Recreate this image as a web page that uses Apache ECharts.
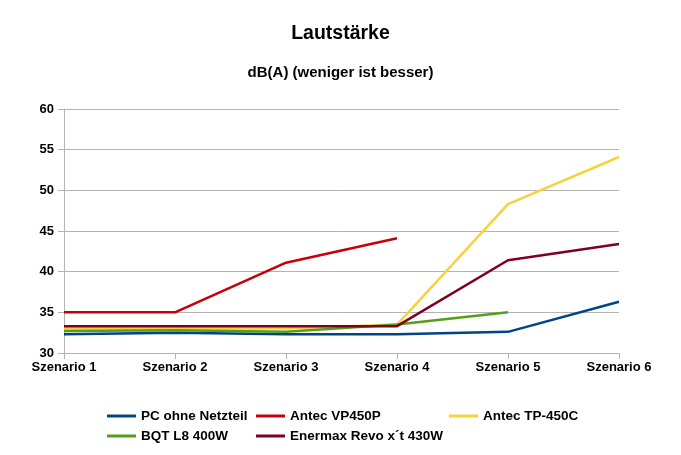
<!DOCTYPE html>
<html><head><meta charset="utf-8">
<script src="https://cdn.jsdelivr.net/npm/echarts@6/dist/echarts.min.js"></script>
<style>html,body{margin:0;padding:0;background:#fff}#c{width:681px;height:455px}</style>
</head><body><div id="c"></div>
<script>
const categories = ['Szenario 1','Szenario 2','Szenario 3','Szenario 4','Szenario 5','Szenario 6'];
const seriesNames = ['PC ohne Netzteil','Antec VP450P','Antec TP-450C','BQT L8 400W','Enermax Revo x´t 430W'];
const pcOhne = [32.3, 32.5, 32.3, 32.3, 32.6, 36.3];
const vp450p = [35.0, 35.0, 41.1, 44.1, null, null];
const tp450c = [33.0, 33.0, 33.0, 33.5, 48.3, 54.1];
const bqt = [32.7, 32.8, 32.6, 33.5, 35.0, null];
const enermax = [33.3, 33.3, 33.3, 33.3, 41.4, 43.4];
const yTicks = [30, 35, 40, 45, 50, 55, 60];

const colors = ['#004586', '#c5000b', '#f5d33c', '#579d1c', '#7e0021'];
const values = [pcOhne, vp450p, tp450c, bqt, enermax];
const font = 'Liberation Sans, Arial, sans-serif';

const legendPos = [[107, 409], [256, 409], [449, 409], [107, 429], [256, 429]];
const legends = seriesNames.map((n, i) => ({
  data: [n], left: legendPos[i][0], top: legendPos[i][1],
  icon: 'rect', itemWidth: 29, itemHeight: 3, itemGap: 4,
  textStyle: {fontFamily: font, fontWeight: 'bold', fontSize: 13.5, color: '#000'},
  padding: 0, selectedMode: false
}));

const chart = echarts.init(document.getElementById('c'), null, {renderer: 'canvas'});
chart.setOption({
  animation: false,
  backgroundColor: '#fff',
  title: [
    {text: 'Lautstärke', left: 'center', top: 19, textStyle: {fontFamily: font, fontWeight: 'bold', fontSize: 19.5, color: '#000'}},
    {text: 'dB(A) (weniger ist besser)', left: 'center', top: 60, textStyle: {fontFamily: font, fontWeight: 'bold', fontSize: 15, color: '#000'}}
  ],
  legend: legends,
  grid: {left: 64, right: 62, top: 109, bottom: 102, containLabel: false},
  xAxis: {
    type: 'category', data: categories, boundaryGap: false,
    axisLine: {lineStyle: {color: '#b3b3b3', width: 1}},
    axisTick: {show: true, length: 6, lineStyle: {color: '#b3b3b3'}},
    axisLabel: {fontFamily: font, fontWeight: 'bold', fontSize: 13, color: '#000', margin: 8, interval: 0},
    splitLine: {show: false}
  },
  yAxis: {
    type: 'value', min: yTicks[0], max: yTicks[yTicks.length-1], interval: 5,
    axisLine: {show: true, lineStyle: {color: '#b3b3b3', width: 1}},
    axisTick: {show: true, length: 6, lineStyle: {color: '#b3b3b3'}},
    axisLabel: {fontFamily: font, fontWeight: 'bold', fontSize: 13, color: '#000', margin: 10},
    splitLine: {show: true, lineStyle: {color: '#b3b3b3', width: 1}}
  },
  series: seriesNames.map((n, i) => ({
    name: n, type: 'line', data: values[i], color: colors[i],
    showSymbol: false, symbol: 'none', connectNulls: false,
    lineStyle: {width: 2.5, color: colors[i]}
  }))
});
</script></body></html>
